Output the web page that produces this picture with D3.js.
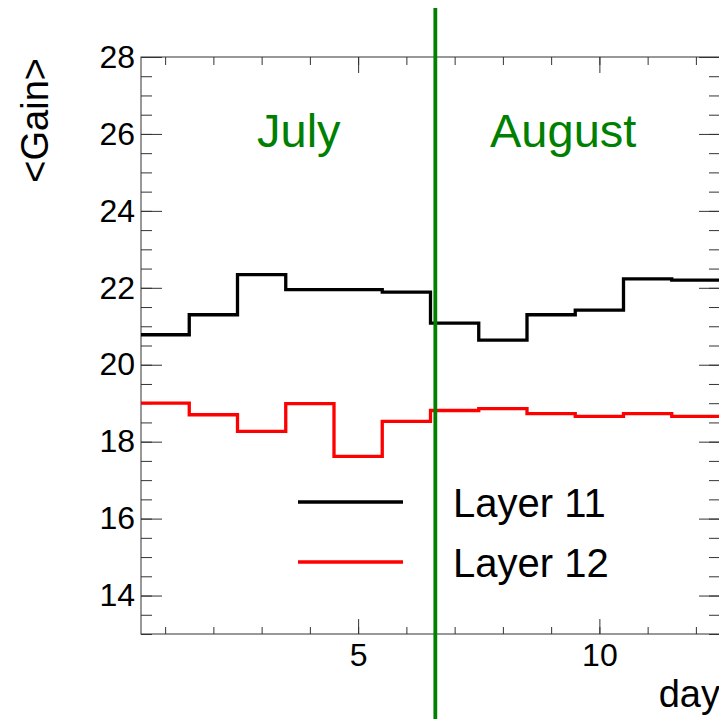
<!DOCTYPE html>
<html>
<head>
<meta charset="utf-8">
<script src="https://cdn.jsdelivr.net/npm/d3@7"></script>
<style>
  body { margin: 0; background: #fff; }
  svg { display: block; font-family: "Liberation Sans", Arial, Helvetica, sans-serif; }
</style>
</head>
<body>
<div id="chart"></div>
<script>
// one bin per day, bin width 1
var days = [1, 2, 3, 4, 5, 6, 7, 8, 9, 10, 11, 12];
var layer11 = [20.78, 21.30, 22.34, 21.95, 21.95, 21.89, 21.08, 20.64, 21.30, 21.42, 22.23, 22.20];
var layer12 = [19.00, 18.70, 18.27, 18.99, 17.62, 18.53, 18.81, 18.86, 18.73, 18.66, 18.73, 18.66];
var seriesNames = ["Layer 11", "Layer 12"];
var seriesColors = ["#000000", "#ff0000"];
var monthNames = ["July", "August"];
var monthStart = 6.6;   // the green divider
var xTicksMajor = [5, 10];
var yTicksMajor = [14, 16, 18, 20, 22, 24, 26, 28];

var width = 719, height = 719;
var frame = {left: 141, right: 720, top: 57, bottom: 634};
var green = "#008000";

var svg = d3.select("#chart").append("svg")
    .attr("width", width)
    .attr("height", height);

var x = d3.scaleLinear().domain([0.5, 12.5]).range([frame.left, frame.right]);
var y = d3.scaleLinear().domain([13, 28]).range([frame.bottom, frame.top]);

var xMinor = d3.range(1, 13);
var yMinor = d3.range(13, 28.01, 0.5);

function styleAxis(g) {
    g.attr("font-family", null).attr("font-size", null);
    g.select(".domain").remove();
    g.selectAll("line").attr("stroke", "#333").attr("stroke-width", 1);
    g.selectAll("text").attr("fill", "#000").style("font-size", "32px");
}

// left axis
svg.append("g").attr("transform", "translate(" + frame.left + ",0)")
    .call(d3.axisLeft(y).tickValues(yMinor).tickSize(-11).tickFormat(""))
    .call(styleAxis);
svg.append("g").attr("transform", "translate(" + frame.left + ",0)")
    .call(d3.axisLeft(y).tickValues(yTicksMajor).tickSize(-21).tickPadding(6).tickFormat(d3.format("d")))
    .call(styleAxis);
// right axis (ticks only)
svg.append("g").attr("transform", "translate(" + frame.right + ",0)")
    .call(d3.axisRight(y).tickValues(yMinor).tickSize(-11).tickFormat(""))
    .call(styleAxis);
svg.append("g").attr("transform", "translate(" + frame.right + ",0)")
    .call(d3.axisRight(y).tickValues(yTicksMajor).tickSize(-21).tickFormat(""))
    .call(styleAxis);
// bottom axis
svg.append("g").attr("transform", "translate(0," + frame.bottom + ")")
    .call(d3.axisBottom(x).tickValues(xMinor).tickSize(-7).tickFormat(""))
    .call(styleAxis);
svg.append("g").attr("transform", "translate(0," + frame.bottom + ")")
    .call(d3.axisBottom(x).tickValues(xTicksMajor).tickSize(-15).tickPadding(9).tickFormat(d3.format("d")))
    .call(styleAxis);
// top axis (ticks only)
svg.append("g").attr("transform", "translate(0," + frame.top + ")")
    .call(d3.axisTop(x).tickValues(xMinor).tickSize(-8).tickFormat(""))
    .call(styleAxis);
svg.append("g").attr("transform", "translate(0," + frame.top + ")")
    .call(d3.axisTop(x).tickValues(xTicksMajor).tickSize(-16).tickFormat(""))
    .call(styleAxis);

// frame
svg.append("rect")
    .attr("x", frame.left).attr("y", frame.top)
    .attr("width", frame.right - frame.left).attr("height", frame.bottom - frame.top)
    .attr("fill", "none").attr("stroke", "#333").attr("stroke-width", 1);

// histogram outlines
function steps(vals) {
    var pts = [];
    vals.forEach(function(v, i) {
        pts.push([days[i] - 0.5, v]);
        pts.push([days[i] + 0.5, v]);
    });
    return pts;
}
var line = d3.line()
    .x(function(d) { return x(d[0]); })
    .y(function(d) { return y(d[1]); });

[layer11, layer12].forEach(function(vals, i) {
    svg.append("path")
        .attr("d", line(steps(vals)))
        .attr("fill", "none")
        .attr("stroke", seriesColors[i])
        .attr("stroke-width", 3.3)
        .attr("stroke-linejoin", "miter");
});

// month divider
svg.append("line")
    .attr("x1", x(monthStart)).attr("x2", x(monthStart))
    .attr("y1", 8).attr("y2", height)
    .attr("stroke", green).attr("stroke-width", 3.8);

svg.selectAll(".month")
    .data(monthNames)
    .enter().append("text")
    .attr("class", "month")
    .attr("x", function(d, i) { return i === 0 ? 257 : 490; })
    .attr("y", 147)
    .attr("fill", green)
    .style("font-size", "47px")
    .text(function(d) { return d; });

// legend
var legend = svg.selectAll(".legend")
    .data(seriesNames)
    .enter().append("g")
    .attr("class", "legend")
    .attr("transform", function(d, i) { return "translate(0," + (502 + i * 60) + ")"; });
legend.append("line")
    .attr("x1", 298).attr("x2", 403)
    .attr("stroke", function(d, i) { return seriesColors[i]; })
    .attr("stroke-width", 3.3);
legend.append("text")
    .attr("x", 453).attr("y", 15)
    .style("font-size", "40px")
    .text(function(d) { return d; });

// axis titles
svg.append("text")
    .attr("transform", "translate(48,58) rotate(-90)")
    .attr("text-anchor", "end")
    .style("font-size", "38px")
    .text("<Gain>");
svg.append("text")
    .attr("x", 720).attr("y", 707)
    .attr("text-anchor", "end")
    .style("font-size", "38px")
    .text("day");
</script>
</body>
</html>
